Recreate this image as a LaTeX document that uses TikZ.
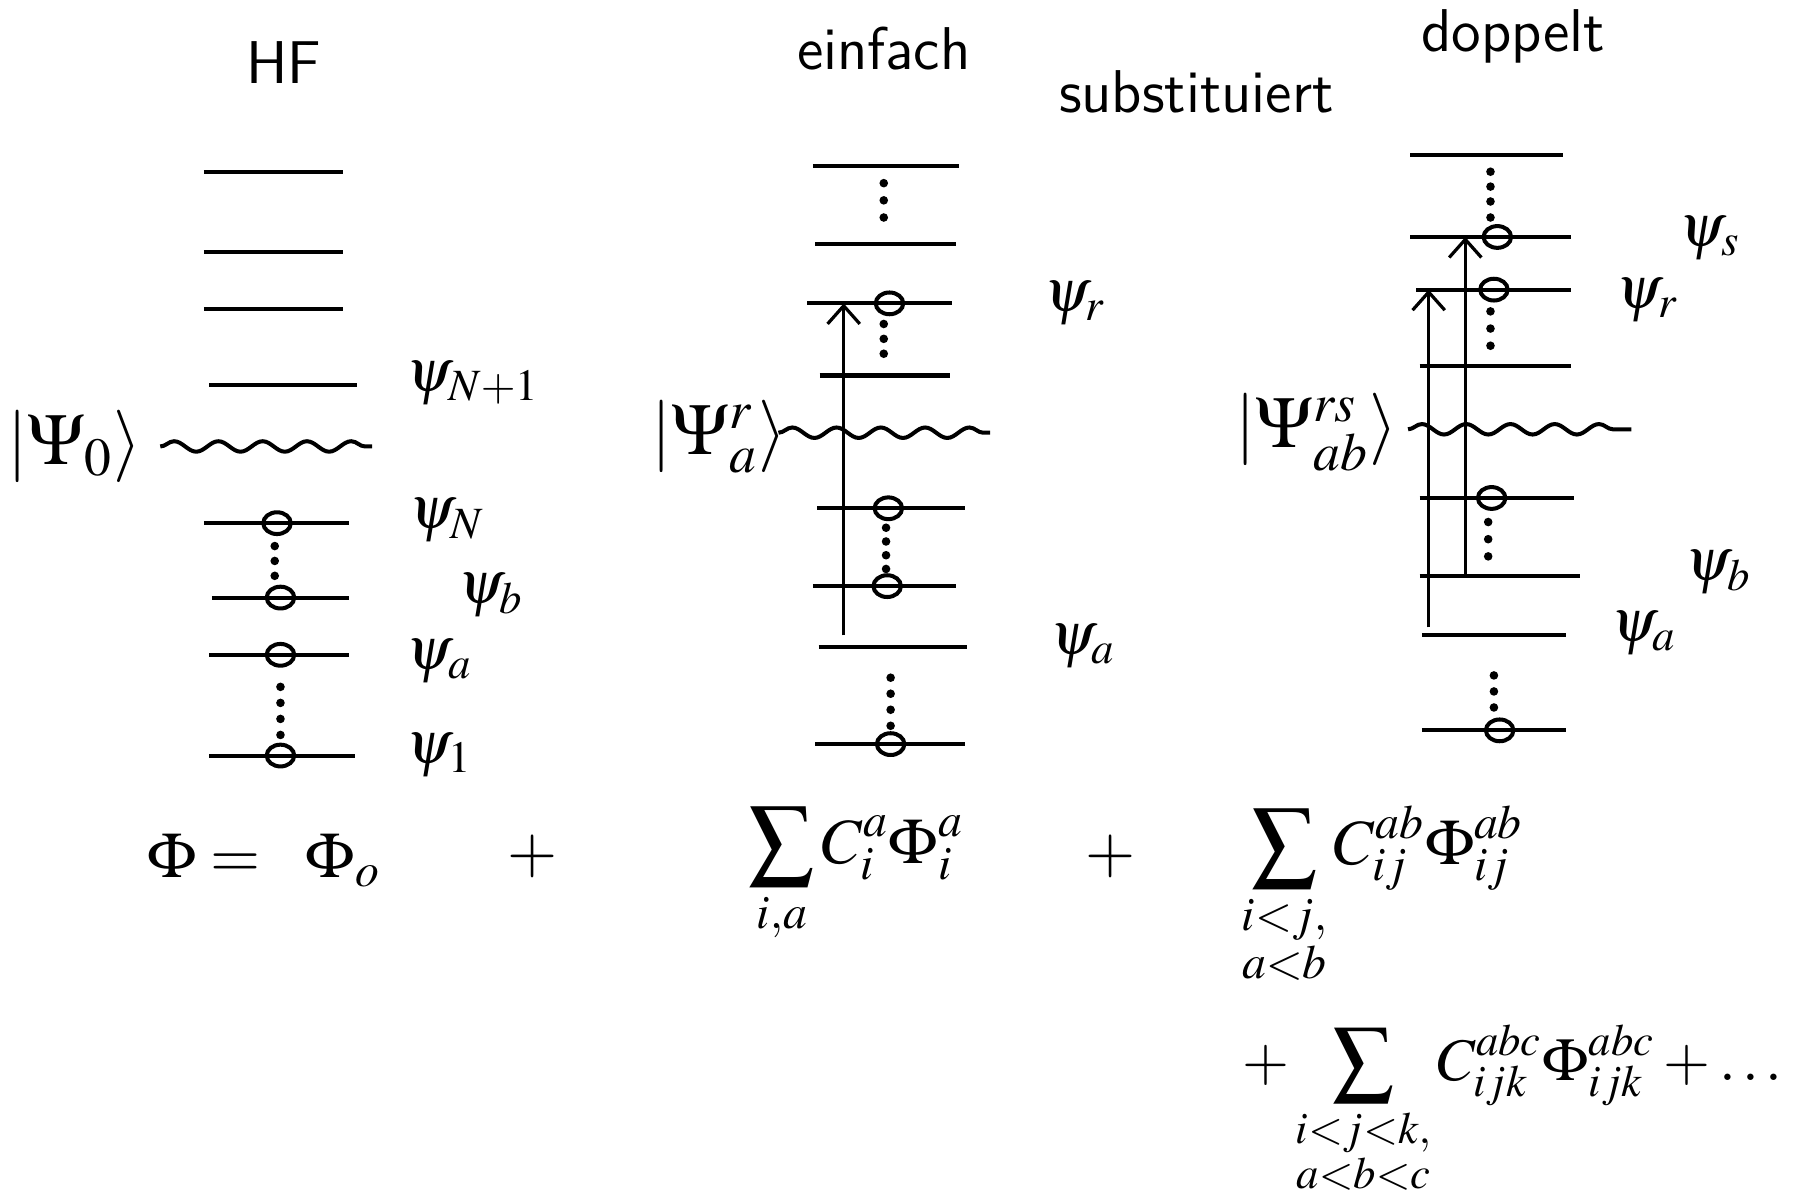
\documentclass[tikz,border=0pt]{standalone}
\usepackage{amsmath}
\usepackage{mathptmx}
\usepackage{fontspec}
\setmainfont{Liberation Serif}
\usepackage{tikz}
\usetikzlibrary{shapes.geometric, arrows.meta, decorations.pathmorphing}

\begin{document}
\begin{tikzpicture}[
    x=0.01cm, y=-0.01cm,
    every node/.style={font=\fontsize{15}{17}\selectfont},
    level/.style={line width=1pt},
    wave/.style={line width=1pt, decorate,
                 decoration={snake, amplitude=1.3pt, segment length=11pt}},
    hole/.style={ellipse, draw, line width=1pt, minimum width=0.24cm,
                 minimum height=0.19cm, inner sep=0pt},
    dot/.style={circle, fill, minimum size=0.075cm, inner sep=0pt},
    excite/.style={-{Straight Barb[length=4.5pt, width=8pt]}, line width=0.8pt},
    orb/.style={anchor=west, font=\fontsize{15}{17}\selectfont},
    ket/.style={font=\fontsize{18}{20}\selectfont},
    head/.style={font=\sffamily\fontsize{15}{17}\selectfont},
    term/.style={font=\fontsize{16}{19}\selectfont}
]
\useasboundingbox (0,0) rectangle (1568,1048);

% headings
\node[head] (hf)    at (248,55)   {HF};
\node[head] (einf)  at (772,42)   {einfach};
\node[head] (subst) at (1045,80)  {substituiert};
\node[head] (dopp)  at (1322,32)  {doppelt};

% --- HF reference determinant
\foreach \y in {150,220,270}
    \draw[level] (178,\y) -- (300,\y);
\draw[level] (183,336) -- (312,336);
\draw[wave] (140,390) -- (325,390);
\node[ket] (ket0) at (65,390) {$|\Psi_0\rangle$};

\draw[level] (178,457) -- (305,457);
\draw[level] (185,522) -- (305,522);
\draw[level] (183,572) -- (305,572);
\draw[level] (183,660) -- (310,660);
\node[hole] (hfN) at (242,457) {};
\node[hole] (hfb) at (245,522) {};
\node[hole] (hfa) at (245,572) {};
\node[hole] (hf1) at (245,660) {};
\foreach \y in {477,490,503}
    \node[dot] (hfd\y) at (240,\y) {};
\foreach \y in {600,614,628,642}
    \node[dot] (hfe\y) at (245,\y) {};

\node[orb] (hfpN1) at (343,335) {$\psi_{N+1}$};
\node[orb] (hfpN)  at (345,455) {$\psi_N$};
\node[orb] (hfpb)  at (388,520) {$\psi_b$};
\node[orb] (hfpa)  at (343,578) {$\psi_a$};
\node[orb] (hfp1)  at (343,660) {$\psi_1$};

% --- single substitution
\draw[level] (710,145) -- (838,145);
\draw[level] (712,213) -- (835,213);
\draw[level] (705,265) -- (832,265);
\draw[level] (716,328) -- (830,328);
\draw[wave] (680,378) -- (865,378);
\draw[level] (714,444) -- (843,444);
\draw[level] (710,512) -- (835,512);
\draw[level] (715,565) -- (845,565);
\draw[level] (712,650) -- (843,650);
\node[hole] (sr)  at (777,265) {};
\node[hole] (so1) at (776,444) {};
\node[hole] (so2) at (775,512) {};
\node[hole] (so3) at (778,650) {};
\foreach \y in {160,175,190}
    \node[dot] (sd\y) at (772,\y) {};
\foreach \y in {283,296,309}
    \node[dot] (se\y) at (772,\y) {};
\foreach \y in {461,473,485,497}
    \node[dot] (sf\y) at (774,\y) {};
\foreach \y in {592,606,620,634}
    \node[dot] (sg\y) at (778,\y) {};

\coordinate (sfrom) at (737,555);
\coordinate (sto)   at (737,265);
\draw[excite] (sfrom) -- (sto);

\node[ket] (ket1) at (628,382) {$|\Psi_a^r\rangle$};
\node[orb] (spr) at (900,265) {$\psi_r$};
\node[orb] (spa) at (905,565) {$\psi_a$};

% --- double substitution
\draw[level] (1232,135) -- (1365,135);
\draw[level] (1232,207) -- (1372,207);
\draw[level] (1237,253) -- (1372,253);
\draw[level] (1240,320) -- (1372,320);
\draw[wave] (1230,375) -- (1425,375);
\draw[level] (1240,435) -- (1375,435);
\draw[level] (1240,503) -- (1380,503);
\draw[level] (1242,555) -- (1368,555);
\draw[level] (1242,638) -- (1368,638);
\node[hole] (ds)  at (1308,207) {};
\node[hole] (dr)  at (1305,253) {};
\node[hole] (do1) at (1303,435) {};
\node[hole] (do2) at (1310,638) {};
\foreach \y in {150,163,176,190}
    \node[dot] (dd\y) at (1302,\y) {};
\foreach \y in {272,287,302}
    \node[dot] (de\y) at (1302,\y) {};
\foreach \y in {456,471,486}
    \node[dot] (df\y) at (1300,\y) {};
\foreach \y in {590,604,618}
    \node[dot] (dg\y) at (1305,\y) {};

\coordinate (dfroma) at (1248,548);
\coordinate (dtor)   at (1248,253);
\coordinate (dfromb) at (1280,503);
\coordinate (dtos)   at (1280,207);
\draw[excite] (dfroma) -- (dtor);
\draw[excite] (dfromb) -- (dtos);

\node[ket] (ket2) at (1150,378) {$|\Psi_{ab}^{rs}\rangle$};
\node[orb] (dps) at (1455,208) {$\psi_s$};
\node[orb] (dpr) at (1400,262) {$\psi_r$};
\node[orb] (dpb) at (1460,500) {$\psi_b$};
\node[orb] (dpa) at (1395,553) {$\psi_a$};

% --- CI expansion
\node[term] (lhs)    at (178,748)  {$\Phi =$};
\node[term] (phi0)   at (300,752)  {$\Phi_o$};
\node[term] (plus1)  at (465,748)  {$+$};
\node[term] (single) at (748,765)
    {$\displaystyle\sum_{i,a} C_i^a\Phi_i^a$};
\node[term] (plus2)  at (970,748)  {$+$};
\node[term] (double) at (1208,783)
    {$\displaystyle\sum_{\substack{i<j,\\ a<b}} C_{ij}^{ab}\Phi_{ij}^{ab}$};
\node[term, font=\fontsize{15}{18}\selectfont, anchor=east, inner sep=0pt]
    (triple) at (1558,970)
    {$\displaystyle +\sum_{\substack{i<j<k,\\ a<b<c}} C_{ijk}^{abc}\Phi_{ijk}^{abc}+\ldots$};

\end{tikzpicture}
\end{document}
